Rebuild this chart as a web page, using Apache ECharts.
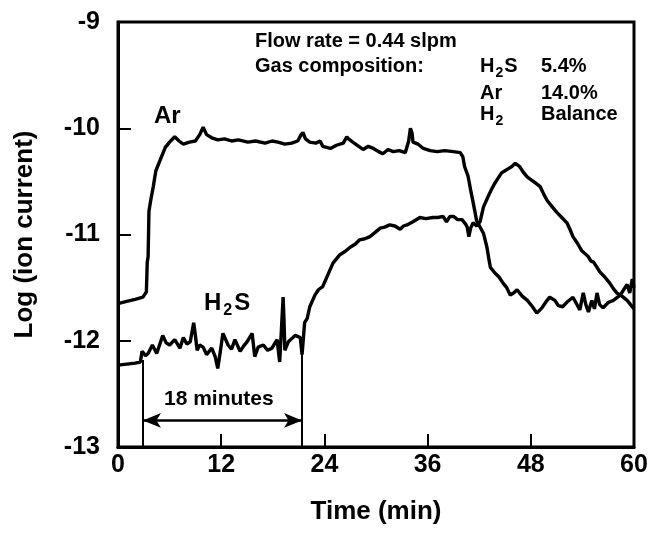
<!DOCTYPE html>
<html>
<head>
<meta charset="utf-8">
<script src="https://cdn.jsdelivr.net/npm/echarts@6/dist/echarts.min.js"></script>
<style>
  html, body { margin: 0; padding: 0; background: #fff; }
  #chart { width: 652px; height: 533px; }
</style>
</head>
<body>
<div id="chart"></div>
<script>
// time (min), log(ion current)
const arTrace = [
  [0, -11.65], [1, -11.63], [2, -11.61], [2.9, -11.59], [3.3, -11.54], [3.4, -11.26],
  [3.5, -11.21], [3.6, -10.78], [3.8, -10.68], [4.1, -10.55], [4.4, -10.4], [4.9, -10.3],
  [5.5, -10.18], [6.0, -10.13], [6.6, -10.08], [7.1, -10.12], [7.6, -10.15], [8.3, -10.13],
  [9.0, -10.12], [9.5, -10.06], [9.9, -9.99], [10.3, -10.06], [10.9, -10.09], [11.6, -10.11],
  [12.4, -10.1], [13.2, -10.12], [14.0, -10.11], [15.1, -10.13], [16.0, -10.12], [17.1, -10.14],
  [17.9, -10.12], [18.6, -10.13], [19.4, -10.15], [20.2, -10.14], [20.9, -10.12], [21.3, -10.06],
  [21.5, -10.04], [21.8, -10.1], [22.3, -10.13], [23.0, -10.14], [23.5, -10.12], [23.8, -10.17],
  [24.7, -10.19], [25.4, -10.16], [26.2, -10.14], [26.6, -10.08], [26.8, -10.1], [27.3, -10.13],
  [28.0, -10.17], [28.5, -10.2], [29.1, -10.17], [29.7, -10.19], [30.3, -10.22], [30.8, -10.24],
  [31.4, -10.2], [32.0, -10.22], [32.7, -10.21], [33.4, -10.23], [33.8, -10.12], [34.0, -10.0],
  [34.2, -10.05], [34.3, -10.13], [34.9, -10.15], [35.5, -10.19], [36.3, -10.21], [37.1, -10.22],
  [38.0, -10.21], [39.0, -10.22], [39.8, -10.23], [40.1, -10.27], [40.3, -10.36], [40.7, -10.45],
  [41.0, -10.58], [41.3, -10.7], [41.7, -10.87], [42.1, -10.93], [42.5, -10.99], [42.9, -11.12],
  [43.1, -11.22], [43.3, -11.31], [43.8, -11.36], [44.3, -11.4], [44.8, -11.46], [45.2, -11.5],
  [45.6, -11.57], [46.0, -11.55], [46.4, -11.52], [47.0, -11.58], [47.6, -11.62], [48.2, -11.68],
  [48.7, -11.74], [49.3, -11.69], [49.8, -11.63], [50.2, -11.59], [50.8, -11.62], [51.2, -11.67],
  [51.7, -11.68], [52.3, -11.63], [52.9, -11.59], [53.3, -11.65], [53.7, -11.71], [54.1, -11.55],
  [54.4, -11.66], [54.7, -11.73], [55.1, -11.62], [55.4, -11.7], [55.7, -11.55], [56.0, -11.66],
  [56.4, -11.69], [57.0, -11.64], [57.6, -11.62], [58.4, -11.57], [58.8, -11.52], [59.2, -11.47],
  [59.5, -11.55], [59.8, -11.42], [60, -11.5]
]

const h2sTrace = [
  [0, -12.23], [1, -12.22], [2, -12.21], [2.6, -12.2], [2.8, -12.1], [3.2, -12.14], [3.5, -12.12],
  [4.0, -12.04], [4.5, -12.12], [5.2, -11.95], [5.6, -12.02], [6.0, -12.04], [6.6, -11.99],
  [7.2, -12.07], [7.6, -11.97], [8.0, -12.03], [8.4, -12.01], [8.8, -11.83], [9.0, -11.95],
  [9.2, -12.09], [9.5, -12.04], [9.9, -12.06], [10.3, -12.13], [10.9, -12.07], [11.3, -12.15],
  [11.6, -12.26], [11.9, -12.1], [12.2, -11.93], [12.8, -12.04], [13.2, -12.08], [13.6, -11.99],
  [14.2, -12.1], [14.6, -12.05], [15.0, -12.01], [15.6, -11.93], [15.9, -12.15], [16.3, -12.06],
  [16.9, -12.04], [17.4, -12.09], [17.9, -12.07], [18.5, -11.99], [18.8, -12.2], [19.0, -11.9],
  [19.2, -11.59], [19.3, -11.8], [19.4, -12.09], [19.8, -12.01], [20.2, -11.98], [20.6, -11.95],
  [21.2, -11.97], [21.4, -12.13], [21.7, -11.83], [22.0, -11.79], [22.3, -11.68], [22.9, -11.57],
  [23.3, -11.52], [23.8, -11.49], [24.4, -11.38], [25.0, -11.27], [25.8, -11.19], [26.4, -11.16],
  [27.0, -11.12], [27.6, -11.09], [28.1, -11.05], [28.7, -11.04], [29.3, -11.02], [29.9, -10.98],
  [30.5, -10.94], [31.0, -10.93], [31.6, -10.91], [32.2, -10.92], [32.8, -10.95], [33.2, -10.92],
  [33.6, -10.91], [34.3, -10.88], [35.1, -10.84], [35.8, -10.85], [36.6, -10.84], [37.2, -10.84],
  [37.8, -10.83], [38.2, -10.88], [38.6, -10.83], [39.0, -10.83], [39.5, -10.86], [40.0, -10.86],
  [40.4, -10.9], [40.6, -10.93], [40.8, -11.02], [41.0, -10.94], [41.3, -10.89], [41.7, -10.92],
  [42.1, -10.88], [42.5, -10.74], [43.0, -10.65], [43.4, -10.58], [43.8, -10.52], [44.2, -10.47],
  [44.6, -10.42], [45.0, -10.4], [45.4, -10.38], [45.8, -10.36], [46.2, -10.33], [46.7, -10.36],
  [47.1, -10.41], [47.6, -10.46], [48.3, -10.5], [49.1, -10.55], [49.5, -10.62], [49.9, -10.68],
  [50.4, -10.73], [51.0, -10.79], [51.6, -10.84], [52.2, -10.89], [52.6, -10.96], [52.9, -11.02],
  [53.4, -11.08], [53.9, -11.15], [54.3, -11.18], [54.7, -11.21], [55.0, -11.25], [55.3, -11.26],
  [55.7, -11.31], [56.0, -11.35], [56.6, -11.4], [57.2, -11.46], [57.6, -11.51], [58.0, -11.55],
  [58.6, -11.58], [59.2, -11.62], [59.6, -11.66], [60, -11.7]
]

// the "18 minutes" bracket: start / end times, where each leg meets the H2S trace, arrow level
const bracketTimes = [2.9, 21.4]
const bracketTops = [-12.18, -12.0]
const arrowLevel = -12.75

const xTicks = { min: 0, max: 60, interval: 12 }
const yTicks = { min: -13, max: -9, interval: 1 }

const FONT = '"Liberation Sans", Arial, sans-serif'
const bold = (size) => `bold ${size}px ${FONT}`
const subRich = {
  sub: { font: bold(14), padding: [14, 1, 0, 1] }
}

const chart = echarts.init(document.getElementById('chart'), null, { renderer: 'canvas' })

const axisText = { color: '#000', fontSize: 25, fontWeight: 'bold', fontFamily: FONT }

const option = {
  animation: false,
  backgroundColor: '#fff',
  grid: {
    left: 118, right: 18, top: 22, bottom: 86,
    show: true, borderColor: '#000', borderWidth: 3, backgroundColor: 'transparent'
  },
  xAxis: {
    type: 'value',
    min: xTicks.min, max: xTicks.max, interval: xTicks.interval,
    name: 'Time (min)', nameLocation: 'middle', nameGap: 52,
    nameTextStyle: { ...axisText, fontSize: 26 },
    axisLine: { lineStyle: { color: '#000', width: 3 } },
    axisTick: { inside: true, length: 13, lineStyle: { color: '#000', width: 2 } },
    axisLabel: { ...axisText, margin: 6 },
    splitLine: { show: false }
  },
  yAxis: {
    type: 'value',
    min: yTicks.min, max: yTicks.max, interval: yTicks.interval,
    name: 'Log (ion current)', nameLocation: 'middle', nameGap: 80,
    nameTextStyle: { ...axisText, fontSize: 26 },
    axisLine: { lineStyle: { color: '#000', width: 3 } },
    axisTick: { inside: true, length: 13, lineStyle: { color: '#000', width: 2 } },
    axisLabel: { ...axisText, margin: 18 },
    splitLine: { show: false }
  },
  series: [
    {
      name: 'Ar', type: 'line', data: arTrace, showSymbol: false,
      lineStyle: { color: '#000', width: 3.4 }, z: 3
    },
    {
      name: 'H2S', type: 'line', data: h2sTrace, showSymbol: false,
      lineStyle: { color: '#000', width: 3.4 }, z: 3
    },
    {
      name: 'bracket', type: 'line', data: [],
      markLine: {
        silent: true, animation: false, label: { show: false },
        lineStyle: { color: '#000', width: 2, type: 'solid' },
        symbol: 'none',
        data: [
          [{ coord: [bracketTimes[0], yTicks.min] }, { coord: [bracketTimes[0], bracketTops[0]] }],
          [{ coord: [bracketTimes[1], yTicks.min] }, { coord: [bracketTimes[1], bracketTops[1]] }]
        ]
      }
    },
    {
      name: 'arrow', type: 'line', data: [],
      markLine: {
        silent: true, animation: false, label: { show: false },
        lineStyle: { color: '#000', width: 2.5, type: 'solid' },
        symbol: ['arrow', 'arrow'], symbolSize: [11, 18], symbolOffset: 0,
        data: [
          [{ coord: [bracketTimes[0], arrowLevel] }, { coord: [bracketTimes[1], arrowLevel] }]
        ]
      }
    }
  ],
  graphic: [
    { type: 'text', left: 255, top: 31, style: { text: 'Flow rate = 0.44 slpm', font: bold(20), fill: '#000' } },
    { type: 'text', left: 255, top: 56, style: { text: 'Gas composition:', font: bold(20), fill: '#000' } },
    { type: 'text', left: 480, top: 56, style: { text: 'H{sub|2}S', font: bold(20), fill: '#000', rich: subRich } },
    { type: 'text', left: 541, top: 56, style: { text: '5.4%', font: bold(20), fill: '#000' } },
    { type: 'text', left: 480, top: 83, style: { text: 'Ar', font: bold(20), fill: '#000' } },
    { type: 'text', left: 541, top: 83, style: { text: '14.0%', font: bold(20), fill: '#000' } },
    { type: 'text', left: 480, top: 104, style: { text: 'H{sub|2}', font: bold(20), fill: '#000', rich: subRich } },
    { type: 'text', left: 541, top: 104, style: { text: 'Balance', font: bold(20), fill: '#000' } },
    { type: 'text', left: 154, top: 104, style: { text: 'Ar', font: bold(24), fill: '#000' } },
    { type: 'text', left: 204, top: 291, style: { text: 'H{sub|2}S', font: bold(24), fill: '#000', rich: { sub: { font: bold(16), padding: [16, 2, 0, 2] } } } },
    { type: 'text', left: 164, top: 389, style: { text: '18 minutes', font: bold(21), fill: '#000' } }
  ]
}

chart.setOption(option)
</script>
</body>
</html>
